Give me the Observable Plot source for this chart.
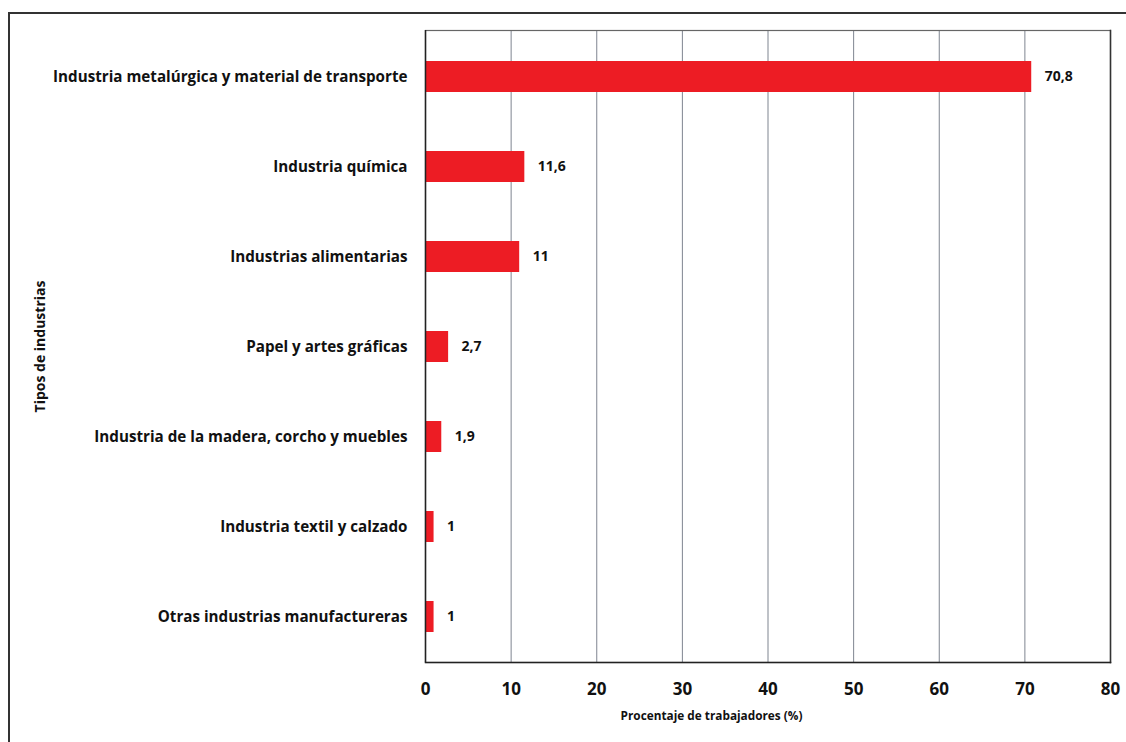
<!DOCTYPE html>
<html>
<head>
<meta charset="utf-8">
<script src="https://cdn.jsdelivr.net/npm/d3@7"></script>
<script src="https://cdn.jsdelivr.net/npm/@observablehq/plot@0.6"></script>
<style>
  html, body { margin: 0; padding: 0; background: #fff; overflow: hidden; }
  #wrap { position: relative; width: 1126px; height: 742px; overflow: hidden; }
  #frame { position: absolute; left: 8px; top: 12px; width: 1140px; height: 760px; border: 2px solid #333; box-sizing: border-box; pointer-events: none; }
  #chart { position: absolute; left: 0; top: 0; }
  svg text { font-family: "Open Sans", sans-serif; }
</style>
</head>
<body>
<div id="wrap">
  <div id="chart"></div>
  <div id="frame"></div>
</div>
<script>
const categories = [
  "Industria metalúrgica y material de transporte",
  "Industria química",
  "Industrias alimentarias",
  "Papel y artes gráficas",
  "Industria de la madera, corcho y muebles",
  "Industria textil y calzado",
  "Otras industrias manufactureras"
];
const values = [70.8, 11.6, 11, 2.7, 1.9, 1, 1];
const xTicks = [0, 10, 20, 30, 40, 50, 60, 70, 80];
const xLabel = "Procentaje de trabajadores (%)";
const yLabel = "Tipos de industrias";

const data = categories.map((c, i) => ({category: c, value: values[i]}));
const fmt = v => String(v).replace(".", ",");

const chart = Plot.plot({
  width: 1126,
  height: 742,
  marginLeft: 425,
  marginRight: 16,
  marginTop: 30,
  marginBottom: 80,
  style: {background: "transparent", color: "#111"},
  x: {domain: [0, 80], ticks: xTicks},
  y: {domain: categories, paddingInner: 0.66, paddingOuter: 0.33},
  marks: [
    Plot.gridX(xTicks, {stroke: "#7f8590", strokeOpacity: 1, strokeWidth: 1}),
    Plot.frame({stroke: "#666", strokeWidth: 1.2}),
    Plot.barX(data, {x: "value", y: "category", fill: "#ED1C24"}),
    Plot.ruleX([0], {stroke: "#222", strokeWidth: 1.5}),
    Plot.frame({anchor: "right", stroke: "#333", strokeWidth: 1.5}),
    Plot.frame({anchor: "bottom", stroke: "#222", strokeWidth: 1.5}),
    Plot.text(data, {x: "value", y: "category", text: d => fmt(d.value), textAnchor: "start", dx: 13, fontSize: 14, fontWeight: "bold", fill: "#111"}),
    Plot.axisX(xTicks, {tickSize: 0, tickPadding: 20, fontSize: 17, fontWeight: "bold", label: null}),
    Plot.axisY({tickSize: 0, tickPadding: 18, fontSize: 15.2, fontWeight: "bold", label: null}),
    Plot.text([xLabel], {x: 33.4, frameAnchor: "bottom", dy: 57, fontSize: 11.8, fontWeight: "bold", fill: "#111", textAnchor: "middle"}),
    Plot.text([yLabel], {frameAnchor: "left", dx: -385, rotate: -90, fontSize: 14, fontWeight: "bold", fill: "#111", textAnchor: "middle"})
  ]
});
document.getElementById("chart").appendChild(chart);
</script>
</body>
</html>
